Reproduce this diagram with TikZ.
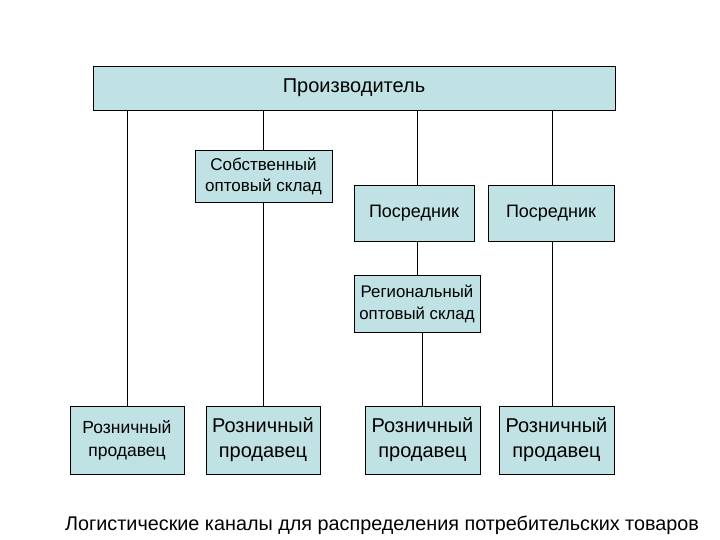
\documentclass[tikz,border=0pt]{standalone}
\usepackage{fontspec}
\setmainfont{Liberation Sans}
\begin{document}
\begin{tikzpicture}[x=1pt,y=-1pt,
  bx/.style={draw=black,fill=boxc,line width=0.8pt,inner sep=0pt,align=center},
  ln/.style={line width=0.8pt}]
\definecolor{boxc}{HTML}{C0E2E4}
\useasboundingbox (0,0) rectangle (720,540);
\def\bb#1#2#3#4#5#6#7#8{\node[bx,minimum width=#4-#2,minimum height=#5-#3,font=\fontsize{#6}{#7}\selectfont] (#1) at ({(#2+#4)/2},{(#3+#5)/2}) {#8};}
\bb{top}{93}{66}{615}{110}{20}{24}{Производитель}
\bb{own}{195}{150}{332}{202}{17}{21}{Собственный\\оптовый склад}
\bb{p1}{354}{185}{474}{241}{18}{22}{Посредник}
\bb{p2}{488}{185}{614}{241}{18}{22}{Посредник}
\bb{reg}{354}{275}{480}{332}{16.8}{22}{Региональный\\оптовый склад}
\bb{r1}{70}{406}{184}{474}{17.5}{23}{Розничный\\продавец}
\bb{r2}{206}{406}{320}{474}{20}{25}{Розничный\\продавец}
\bb{r3}{365}{406}{480}{474}{20}{25}{Розничный\\продавец}
\bb{r4}{499}{406}{614}{474}{20}{25}{Розничный\\продавец}
\draw[ln] (top.south -| r1.north) -- (r1.north);
\draw[ln] (top.south -| own.north) -- (own.north);
\draw[ln] (own.south) -- (own.south |- r2.north);
\draw[ln] (top.south -| 417,0) -- (p1.north -| 417,0);
\draw[ln] (p1.south -| 417,0) -- (reg.north -| 417,0);
\draw[ln] (reg.south -| 422,0) -- (r3.north -| 422,0);
\draw[ln] (top.south -| 552,0) -- (p2.north -| 552,0);
\draw[ln] (p2.south -| 552,0) -- (r4.north -| 552,0);
\node[font=\fontsize{19.8}{24}\selectfont,anchor=west,inner sep=0pt] (cap) at (65,525) {Логистические каналы для распределения потребительских товаров};
\end{tikzpicture}
\end{document}
